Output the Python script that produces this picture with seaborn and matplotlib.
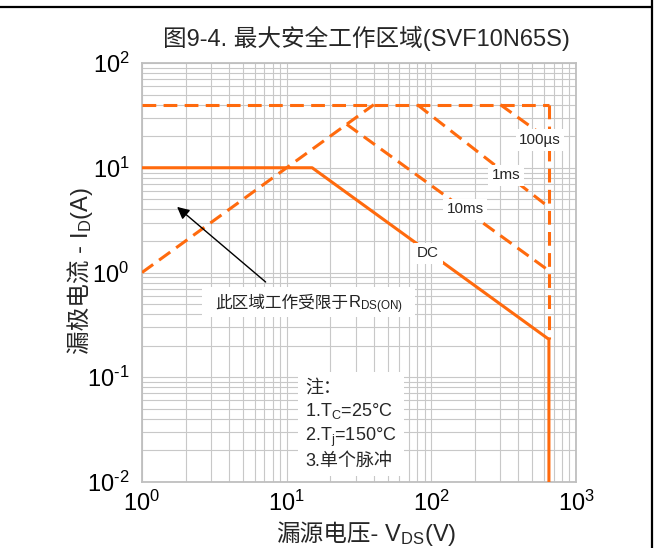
import matplotlib
matplotlib.use('Agg')
import matplotlib.pyplot as plt
from matplotlib.lines import Line2D
from matplotlib.patches import Rectangle
import seaborn as sns
import pandas as pd

# safe operating area curves (V_DS in V, I_D in A)
rds_v = [1, 40]
rds_i = [1, 40]
idm_v = [1, 650]
idm_i = [40, 40]
ms10_v = [26, 650]
ms10_i = [26, 1.04]
ms1_v = [80, 650]
ms1_i = [40, 4.2]
us100_v = [300, 650]
us100_i = [40, 18.5]
bv_v = [650, 650]
bv_i = [40, 0.23]
dc_v = [1, 15, 650, 650]
dc_i = [10, 10, 0.23, 0.01]

x_ticks = [1, 10, 100, 1000]
x_tick_labels = ['10$^{0}$', '10$^{1}$', '10$^{2}$', '10$^{3}$']
y_ticks = [0.01, 0.1, 1, 10, 100]
y_tick_labels = ['10$^{\\text{-}2}$', '10$^{\\text{-}1}$', '10$^{0}$', '10$^{1}$', '10$^{2}$']

curve_labels = ['100µs', '1ms', '10ms', 'DC']
label_v = [563, 328, 171, 95]
label_i = [18.4, 8.5, 4.0, 1.53]

sns.set_theme(style='white')
plt.rcParams['font.family'] = ['Liberation Sans', 'Noto Sans CJK SC']
plt.rcParams['mathtext.fontset'] = 'custom'
plt.rcParams['mathtext.rm'] = 'Liberation Sans'
plt.rcParams['mathtext.it'] = 'Liberation Sans:italic'
plt.rcParams['mathtext.bf'] = 'Liberation Sans:bold'

orange = '#FF6A0D'
dashed = (0, (4.5, 2.4))
W, H = 654, 548


def px(x, y):
    return x / W, 1 - y / H


def two_part_text(fig, pos, plain, math, size, rotation=0, **kw):
    # mathtext cannot fall back to the CJK font, so the Chinese part is drawn
    # as plain text and the part with subscripts right after it on the same baseline
    x, y = px(*pos)
    fig.text(x, y, plain, fontsize=size, ha='right', va='baseline',
             rotation=rotation, rotation_mode='anchor', **kw)
    fig.text(x, y, math, fontsize=size, ha='left', va='baseline',
             rotation=rotation, rotation_mode='anchor', **kw)


fig = plt.figure(figsize=(6.54, 5.48), dpi=100)
ax = fig.add_axes([142 / W, 1 - 482 / H, 434 / W, 419 / H])

pulse_lines = [(rds_v, rds_i), (idm_v, idm_i), (ms10_v, ms10_i),
               (ms1_v, ms1_i), (us100_v, us100_i), (bv_v, bv_i)]
for v, i in pulse_lines:
    df = pd.DataFrame({'V': v, 'I': i})
    sns.lineplot(data=df, x='V', y='I', ax=ax, color=orange, lw=2.2,
                 linestyle=dashed, sort=False, estimator=None, zorder=3)

dc = pd.DataFrame({'V': dc_v, 'I': dc_i})
sns.lineplot(data=dc, x='V', y='I', ax=ax, color=orange, lw=2.2,
             sort=False, estimator=None, zorder=3)

ax.set_xscale('log')
ax.set_yscale('log')
ax.set_xlim(1, 1000)
ax.set_ylim(0.01, 100)
ax.set_xticks(x_ticks)
ax.set_xticklabels(x_tick_labels)
ax.set_yticks(y_ticks)
ax.set_yticklabels(y_tick_labels)
ax.tick_params(axis='both', which='both', length=0, labelsize=17, colors='black')
ax.tick_params(axis='x', pad=6)
ax.tick_params(axis='y', pad=9)
ax.grid(True, which='both', color='#C8C8C8', lw=0.8)
for s in ax.spines.values():
    s.set_color('#BFBFBF')
    s.set_linewidth(1.3)
ax.set_xlabel('')
ax.set_ylabel('')

two_part_text(fig, (378, 541), '漏源电压-', ' V$_\\mathregular{DS}$(V)', 17)
two_part_text(fig, (88, 245), '漏极电流 -', ' I$_\\mathregular{D}$(A)', 17, rotation=90)

box = dict(facecolor='white', edgecolor='none', pad=2.5)
for txt, v, i in zip(curve_labels, label_v, label_i):
    ax.text(v, i, txt, fontsize=11, ha='center', va='center', bbox=box, zorder=4)

ax.annotate('', xy=(1.69, 4.4), xytext=(7.4, 0.78),
            arrowprops=dict(arrowstyle='-|>', color='black', lw=1.0,
                            mutation_scale=18), zorder=4)
ax.add_patch(Rectangle(((202 - 142) / 434, 1 - (317 - 63) / 419), 213 / 434, 30 / 419,
                       transform=ax.transAxes, facecolor='white', edgecolor='none',
                       zorder=4))
two_part_text(fig, (348, 308), '此区域工作受限于', 'R$_\\mathregular{DS(ON)}$', 12,
              color='#222222', zorder=5)

ax.text(0.376, 0.245,
        '注：\n1.T$_\\mathregular{C}$=25°C\n2.T$_\\mathregular{j}$=150°C\n3.单个脉冲',
        transform=ax.transAxes, fontsize=13, ha='left', va='top',
        linespacing=1.3, bbox=dict(facecolor='white', edgecolor='none', pad=5),
        zorder=4)

fig.text(*px(366, 38), '图9-4. 最大安全工作区域(SVF10N65S)',
         fontsize=17, ha='center', va='center')

# page frame pieces visible in the datasheet crop
fig.add_artist(Line2D([0, 652 / W], [1 - 6.5 / H] * 2,
                      transform=fig.transFigure, color='black', lw=1.6))
fig.add_artist(Line2D([652 / W] * 2, [0, 1],
                      transform=fig.transFigure, color='black', lw=1.6))

fig.savefig('out.png', dpi=100)
